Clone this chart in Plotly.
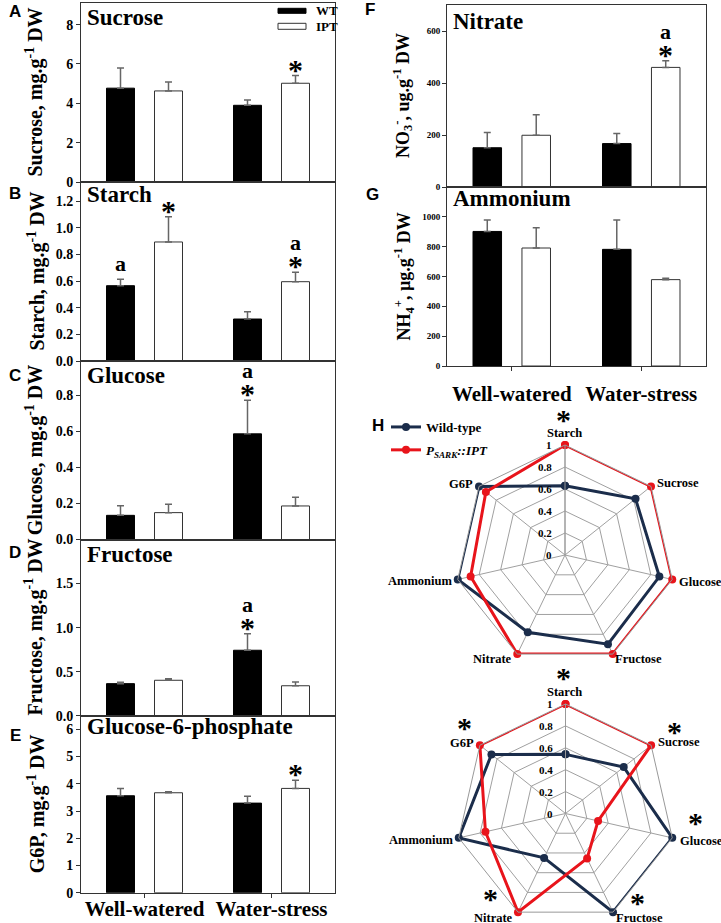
import plotly.graph_objects as go

W, H = 721, 923
SERIF = "Liberation Serif"
SANS = "Liberation Sans"
NAVY = "#1b2d4b"
RED = "#e8141b"
AXC = "#333333"

# ---------------- data ----------------
groups = ["Well-watered", "Water-stress"]

sucrose_wt = [4.77, 3.90]
sucrose_wt_err = [1.02, 0.27]
sucrose_ipt = [4.63, 5.02]
sucrose_ipt_err = [0.46, 0.39]

starch_wt = [0.565, 0.315]
starch_wt_err = [0.048, 0.055]
starch_ipt = [0.893, 0.595]
starch_ipt_err = [0.19, 0.07]

glucose_wt = [0.134, 0.586]
glucose_wt_err = [0.053, 0.187]
glucose_ipt = [0.149, 0.186]
glucose_ipt_err = [0.046, 0.049]

fructose_wt = [0.364, 0.743]
fructose_wt_err = [0.016, 0.187]
fructose_ipt = [0.402, 0.34]
fructose_ipt_err = [0.018, 0.043]

g6p_wt = [3.56, 3.29]
g6p_wt_err = [0.27, 0.25]
g6p_ipt = [3.67, 3.83]
g6p_ipt_err = [0.04, 0.30]

nitrate_wt = [151, 167]
nitrate_wt_err = [59, 39]
nitrate_ipt = [199, 460]
nitrate_ipt_err = [79, 26]

ammonium_wt = [902, 782]
ammonium_wt_err = [76, 196]
ammonium_ipt = [791, 579]
ammonium_ipt_err = [136, 9]

# significance marks: (panel, genotype, group index, labels from bottom to top)
sig_marks = [
    ("A", "IPT", 1, ["*"]),
    ("B", "WT", 0, ["a"]),
    ("B", "IPT", 0, ["*"]),
    ("B", "IPT", 1, ["*", "a"]),
    ("C", "WT", 1, ["*", "a"]),
    ("D", "WT", 1, ["*", "a"]),
    ("E", "IPT", 1, ["*"]),
    ("F", "IPT", 1, ["*", "a"]),
]

radar_axes = ["Starch", "Sucrose", "Glucose", "Fructose", "Nitrate", "Ammonium", "G6P"]
radar_ww_wt = [0.63, 0.82, 0.88, 0.90, 0.78, 1.0, 1.0]
radar_ww_ipt = [1.0, 1.0, 1.0, 1.0, 1.0, 0.88, 0.92]
radar_ws_wt = [0.54, 0.68, 1.0, 1.0, 0.45, 1.0, 0.865]
radar_ws_ipt = [1.0, 1.0, 0.305, 0.455, 1.0, 0.75, 1.0]
radar_ww_sig = ["Starch"]
radar_ws_sig = ["Starch", "Sucrose", "Glucose", "Fructose", "Nitrate", "G6P"]

radial_ticks = [0, 0.2, 0.4, 0.6, 0.8, 1]
radial_ticktext = ["0", "0.2", "0.4", "0.6", "0.8", "1"]

panels = {
    "A": dict(title="Sucrose", ylab="Sucrose, mg.g<sup>-1</sup> DW",
              wt=sucrose_wt, wte=sucrose_wt_err, ipt=sucrose_ipt, ipte=sucrose_ipt_err,
              ticks=[0, 2, 4, 6, 8], ticktext=["0", "2", "4", "6", "8"], top=9.1),
    "B": dict(title="Starch", ylab="Starch, mg.g<sup>-1</sup> DW",
              wt=starch_wt, wte=starch_wt_err, ipt=starch_ipt, ipte=starch_ipt_err,
              ticks=[0, 0.2, 0.4, 0.6, 0.8, 1.0, 1.2],
              ticktext=["0.0", "0.2", "0.4", "0.6", "0.8", "1.0", "1.2"], top=1.343),
    "C": dict(title="Glucose", ylab="Glucose, mg.g<sup>-1</sup> DW",
              wt=glucose_wt, wte=glucose_wt_err, ipt=glucose_ipt, ipte=glucose_ipt_err,
              ticks=[0, 0.2, 0.4, 0.6, 0.8], ticktext=["0.0", "0.2", "0.4", "0.6", "0.8"], top=0.99),
    "D": dict(title="Fructose", ylab="Fructose, mg.g<sup>-1</sup> DW",
              wt=fructose_wt, wte=fructose_wt_err, ipt=fructose_ipt, ipte=fructose_ipt_err,
              ticks=[0, 0.5, 1.0, 1.5], ticktext=["0.0", "0.5", "1.0", "1.5"], top=2.0),
    "E": dict(title="Glucose-6-phosphate", ylab="G6P, mg.g<sup>-1</sup> DW",
              wt=g6p_wt, wte=g6p_wt_err, ipt=g6p_ipt, ipte=g6p_ipt_err,
              ticks=[0, 1, 2, 3, 4, 5, 6], ticktext=["0", "1", "2", "3", "4", "5", "6"], top=6.5),
    "F": dict(title="Nitrate", ylab="NO<sub>3</sub><sup>-</sup>, ug.g<sup>-1</sup> DW",
              wt=nitrate_wt, wte=nitrate_wt_err, ipt=nitrate_ipt, ipte=nitrate_ipt_err,
              ticks=[0, 200, 400, 600], ticktext=["0", "200", "400", "600"], top=700),
    "G": dict(title="Ammonium", ylab="NH<sub>4</sub><sup>+</sup>, µg.g<sup>-1</sup> DW",
              wt=ammonium_wt, wte=ammonium_wt_err, ipt=ammonium_ipt, ipte=ammonium_ipt_err,
              ticks=[0, 200, 400, 600, 800, 1000],
              ticktext=["0", "200", "400", "600", "800", "1000"], top=1200),
}

# ---------------- layout geometry (pixels) ----------------
LEFT_X = (81, 335)
RIGHT_X = (447, 706)
geom = {
    "A": dict(x=LEFT_X, y=(3, 182), title_dy=14, lab_x=34, letter=(15, 12)),
    "B": dict(x=LEFT_X, y=(182, 361), title_dy=12.5, lab_x=36, letter=(15, 193)),
    "C": dict(x=LEFT_X, y=(361, 539.5), title_dy=14, lab_x=34, letter=(15, 375)),
    "D": dict(x=LEFT_X, y=(539.5, 715.7), title_dy=15, lab_x=34, letter=(15, 552)),
    "E": dict(x=LEFT_X, y=(715.7, 892.7), title_dy=11, lab_x=36, letter=(15, 735)),
    "F": dict(x=RIGHT_X, y=(5, 187), title_dy=16, lab_x=402, letter=(370, 10)),
    "G": dict(x=RIGHT_X, y=(187, 366), title_dy=11.5, lab_x=404, letter=(372, 195)),
}
order = ["A", "B", "C", "D", "E", "F", "G"]


def px(x):
    return x / W


def py(y):
    return 1 - y / H


fig = go.Figure()
layout = dict(
    width=W, height=H, margin=dict(l=0, r=0, t=0, b=0, autoexpand=False),
    paper_bgcolor="white", plot_bgcolor="white",
    barmode="group", bargap=0.244, bargroupgap=0.417,
    showlegend=True,
    font=dict(family=SERIF, color="black"),
)
annotations = []
shapes = []

axref = {}
for i, key in enumerate(order):
    n = i + 1
    sfx = "" if n == 1 else str(n)
    axref[key] = ("x" + sfx, "y" + sfx)
    g = geom[key]
    p = panels[key]
    right = key in ("F", "G")
    bottom = key in ("E", "G")
    layout["xaxis" + sfx] = dict(
        domain=[px(g["x"][0]), px(g["x"][1])], anchor="y" + sfx,
        type="category", range=[-0.5, 1.5], automargin=False,
        showline=True, mirror=True, linecolor=AXC, linewidth=1,
        showgrid=False, zeroline=False,
        ticks="outside" if bottom else "", ticklen=4, tickcolor=AXC,
        showticklabels=bottom,
        tickfont=dict(family=SERIF, size=21, weight="bold", color="black"),
        ticklabelstandoff=(5 if key == "G" else -7),
    )
    layout["yaxis" + sfx] = dict(
        domain=[py(g["y"][1]), py(g["y"][0])], anchor="x" + sfx,
        range=[0, p["top"]], tickvals=p["ticks"], ticktext=p["ticktext"],
        automargin=False,
        showline=True, mirror=True, linecolor=AXC, linewidth=1,
        showgrid=False, zeroline=False,
        ticks="outside", ticklen=4, tickcolor=AXC,
        tickfont=dict(family=SERIF, size=(9 if right else 14), weight="bold", color="black"),
    )
    xr, yr = axref[key]
    fig.add_trace(go.Bar(
        x=groups, y=p["wt"], xaxis=xr, yaxis=yr, offsetgroup="WT", name="WT",
        marker=dict(color="black", line=dict(color="black", width=1)),
        error_y=dict(type="data", array=p["wte"], symmetric=False, arrayminus=[0, 0],
                     color="#666666", thickness=1.5, width=3.5),
        showlegend=False,
    ))
    fig.add_trace(go.Bar(
        x=groups, y=p["ipt"], xaxis=xr, yaxis=yr, offsetgroup="IPT", name="IPT",
        marker=dict(color="white", line=dict(color=AXC, width=1)),
        error_y=dict(type="data", array=p["ipte"], symmetric=False, arrayminus=[0, 0],
                     color="#666666", thickness=1.5, width=3.5),
        showlegend=False,
    ))
    annotations.append(dict(
        text=p["title"], x=px(g["x"][0] + 4), y=py(g["y"][0] + g["title_dy"]),
        xref="paper", yref="paper", xanchor="left", yanchor="middle", showarrow=False,
        font=dict(family=SERIF, size=23, weight="bold", color="black"),
    ))
    annotations.append(dict(
        text=p["ylab"], x=px(g["lab_x"]), y=py((g["y"][0] + g["y"][1]) / 2),
        xref="paper", yref="paper", xanchor="center", yanchor="middle", showarrow=False,
        textangle=-90,
        font=dict(family=SERIF, size=(18 if right else 20), weight="bold", color="black"),
    ))
    annotations.append(dict(
        text=key, x=px(g["letter"][0]), y=py(g["letter"][1]),
        xref="paper", yref="paper", xanchor="center", yanchor="middle", showarrow=False,
        font=dict(family=SANS, size=17, weight="bold", color="black"),
    ))

# significance annotations
for key, geno, gi, labs in sig_marks:
    p = panels[key]
    xr, yr = axref[key]
    top = (p["wt"][gi] + p["wte"][gi]) if geno == "WT" else (p["ipt"][gi] + p["ipte"][gi])
    shift = -24 if geno == "WT" else 24
    base = 0
    for lab in labs:
        if lab == "*":
            annotations.append(dict(
                text="*", x=groups[gi], y=top, xref=xr, yref=yr, xshift=shift,
                yshift=base - 12, xanchor="center", yanchor="bottom", showarrow=False,
                font=dict(family=SERIF, size=30, weight="bold", color="black"),
            ))
            base += 14
        else:
            annotations.append(dict(
                text="a", x=groups[gi], y=top, xref=xr, yref=yr, xshift=shift,
                yshift=base + 1, xanchor="center", yanchor="bottom", showarrow=False,
                font=dict(family=SERIF, size=22, weight="bold", color="black"),
            ))
            base += 24

# bar legend in panel A
shapes.append(dict(type="rect", xref="paper", yref="paper",
                   x0=px(278), x1=px(306), y0=py(13.3), y1=py(8.3),
                   fillcolor="black", line=dict(color="black", width=1)))
shapes.append(dict(type="rect", xref="paper", yref="paper",
                   x0=px(278), x1=px(306), y0=py(29.3), y1=py(23.3),
                   fillcolor="white", line=dict(color=AXC, width=1)))
for txt, yy in (("WT", 11), ("IPT", 27)):
    annotations.append(dict(text=txt, x=px(314), y=py(yy), xref="paper", yref="paper",
                            xanchor="left", yanchor="middle", showarrow=False,
                            font=dict(family=SERIF, size=13, weight="bold", color="black")))

# ---------------- radar charts ----------------
radar_geom = {
    "polar": dict(cx=565, cy=555, r=110),
    "polar2": dict(cx=565.5, cy=813.5, r=109.5),
}
label_offsets = {
    "Starch": (-1, -122, "center"), "Sucrose": (90, -72, "left"),
    "Glucose": (112, 27, "left"), "Fructose": (48, 104, "left"),
    "Nitrate": (-51, 104, "right"), "Ammonium": (-111, 26, "right"),
    "G6P": (-90, -71, "right"),
}
star_offsets = {
    "Starch": (-2, -136), "Sucrose": (109, -82), "Glucose": (130, 9),
    "Fructose": (72, 89), "Nitrate": (-75, 85), "G6P": (-101, -86),
}

for pk in ("polar", "polar2"):
    rg = radar_geom[pk]
    layout[pk] = dict(
        domain=dict(x=[px(rg["cx"] - rg["r"]), px(rg["cx"] + rg["r"])],
                    y=[max(0, py(rg["cy"] + rg["r"])), py(rg["cy"] - rg["r"])]),
        bgcolor="white", gridshape="linear",
        radialaxis=dict(range=[0, 1], angle=90, tickvals=radial_ticks,
                        showline=True, linecolor="#999999", linewidth=1,
                        gridcolor="#a0a0a0", gridwidth=1, ticks="", showticklabels=False),
        angularaxis=dict(rotation=90, direction="clockwise", categoryorder="array",
                         categoryarray=radar_axes, showline=True, linecolor="#999999",
                         gridcolor="#a0a0a0", gridwidth=1, ticks="", showticklabels=False),
    )
    for tv, tt in zip(radial_ticks, radial_ticktext):
        annotations.append(dict(text=tt, x=px(rg["cx"] - 11), y=py(rg["cy"] - tv * rg["r"]),
                                xref="paper", yref="paper", xanchor="right", yanchor="middle",
                                showarrow=False,
                                font=dict(family=SERIF, size=11, weight="bold", color="black")))
    for name in radar_axes:
        dx, dy, xa = label_offsets[name]
        annotations.append(dict(text=name, x=px(rg["cx"] + dx), y=py(rg["cy"] + dy),
                                xref="paper", yref="paper", xanchor=xa, yanchor="middle",
                                showarrow=False,
                                font=dict(family=SERIF, size=12.5, weight="bold", color="black")))

radar_sets = [
    ("polar", radar_ww_wt, radar_ww_ipt, True, radar_ww_sig),
    ("polar2", radar_ws_wt, radar_ws_ipt, False, radar_ws_sig),
]
for pk, wt, ipt, leg, sig in radar_sets:
    fig.add_trace(go.Scatterpolar(
        r=wt + [wt[0]], theta=radar_axes + [radar_axes[0]], subplot=pk,
        mode="lines+markers", line=dict(color=NAVY, width=3), marker=dict(size=8, color=NAVY),
        name="Wild-type", legend="legend2", legendgroup="wt", showlegend=leg,
    ))
    fig.add_trace(go.Scatterpolar(
        r=ipt + [ipt[0]], theta=radar_axes + [radar_axes[0]], subplot=pk,
        mode="lines+markers", line=dict(color=RED, width=3), marker=dict(size=8, color=RED),
        name="<i>P<sub>SARK</sub>::IPT</i>", legend="legend2", legendgroup="ipt", showlegend=leg,
    ))
    rg = radar_geom[pk]
    for s in sig:
        dx, dy = star_offsets[s]
        annotations.append(dict(text="*", x=px(rg["cx"] + dx), y=py(rg["cy"] + dy),
                                xref="paper", yref="paper", xanchor="center", yanchor="middle",
                                showarrow=False,
                                font=dict(family=SERIF, size=30, weight="bold", color="black")))

layout["legend2"] = dict(
    x=px(386), y=py(412), xanchor="left", yanchor="top",
    bgcolor="rgba(0,0,0,0)", tracegroupgap=3,
    font=dict(family=SERIF, size=13, weight="bold", color="black"),
)
annotations.append(dict(text="H", x=px(378), y=py(425), xref="paper", yref="paper",
                        xanchor="center", yanchor="middle", showarrow=False,
                        font=dict(family=SANS, size=17, weight="bold", color="black")))

layout["annotations"] = annotations
layout["shapes"] = shapes
fig.update_layout(**layout)
fig.write_html(
    "out.html",
    config={"displayModeBar": False},
    post_script="document.body.style.margin='0';document.body.style.overflow='hidden';",
)
